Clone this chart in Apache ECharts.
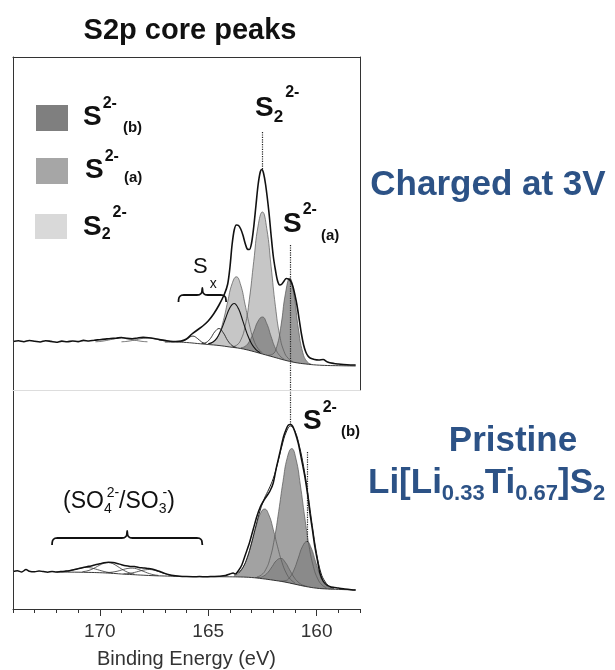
<!DOCTYPE html>
<html><head><meta charset="utf-8">
<script src="https://cdn.jsdelivr.net/npm/echarts@6/dist/echarts.min.js"></script>
<style>html,body{margin:0;padding:0;background:#fff}#c{width:615px;height:670px}</style>
</head><body><div id="c"></div>
<script>
// ---------------- DATA (binding energy in eV, intensity in arb. units) ----------------
const xTickLabels = [160, 165, 170];

// Top panel: charged at 3V
const topRaw = [[174,48.5],[173.75,49.2],[173.5,48.3],[173.25,49.5],[173,48.8],[172.75,48],[172.5,49.3],[172.25,48.6],[172,47.8],[171.75,48.9],[171.5,48.2],[171.25,49],[171,48.4],[170.75,49.6],[170.5,49],[170.25,49.8],[170,50.3],[169.75,50.9],[169.5,51.5],[169.25,51.8],[169,52.5],[168.75,51.6],[168.5,51.2],[168.25,52],[168,52.6],[167.75,52.3],[167.5,51.5],[167.25,50.4],[167,49.6],[166.75,48.8],[166.5,48.5],[166.25,49],[166,51],[165.75,56],[165.5,60],[165.25,64],[165,69],[164.75,76],[164.5,85],[164.25,96],[164.1,106],[164,122],[163.9,145],[163.8,160],[163.7,165],[163.6,164.5],[163.5,161],[163.4,155],[163.3,147],[163.2,141],[163.1,140.5],[163,147],[162.9,163],[162.8,184],[162.7,205],[162.6,218],[162.53,220.5],[162.45,217],[162.35,205],[162.2,178],[162.1,155],[162,134],[161.9,120],[161.8,109],[161.7,105],[161.6,106],[161.5,109],[161.4,111.5],[161.3,111],[161.2,109],[161.1,104],[161,95],[160.9,84],[160.8,70],[160.7,56],[160.6,45],[160.5,38],[160.4,34],[160.3,32],[160.1,30.5],[159.9,30],[159.7,30.5],[159.5,28],[159.2,26.5],[159,26],[158.6,25.3],[158.2,25]];
const topBackground = [[167,48],[166.5,48],[166,47.5],[165.5,46.5],[165,45.5],[164.5,44.5],[164,43],[163.5,41.5],[163,39],[162.5,36],[162,33],[161.5,30],[161,27.5],[160.5,26],[160,25],[159.5,24.5],[159,24.3],[158.2,24]];
const topS22Main = [[161.1,28.5],[161.3,31.4],[161.5,38.4],[161.7,54.3],[161.9,83.7],[162.1,123.8],[162.3,161.6],[162.5,178],[162.7,164],[162.9,128.6],[163.1,90.8],[163.3,63.6],[163.5,49.9],[163.7,44.6],[163.9,43.3]];
const topS22Minor = [[162.5,37.2],[162.7,41.4],[162.9,50],[163.1,65.1],[163.3,85.6],[163.5,104.9],[163.7,113.2],[163.9,106.2],[164.1,88.4],[164.3,69.5],[164.5,56.1],[164.7,49.1],[164.9,46.5]];
const topS2aMain = [[160.24,25.8],[160.44,28.3],[160.64,37.6],[160.84,61.1],[161.04,94.2],[161.24,111.7],[161.44,96.2],[161.64,64.9],[161.84,43.2],[162.04,35.6],[162.24,34.7]];
const topS2aMinor = [[161.5,30.8],[161.7,34.3],[161.9,41.6],[162.1,53.5],[162.3,66.5],[162.5,73],[162.7,68.9],[162.9,58.3],[163.1,48.7],[163.3,43.6],[163.5,42.3]];
const topSx1 = [[162.6,37.3],[162.8,40.4],[163,46.2],[163.2,55.9],[163.4,68.9],[163.6,81.2],[163.8,86.5],[164,82.3],[164.2,71.5],[164.4,60.1],[164.6,51.9],[164.8,47.7],[165,46.2]];
const topSx2 = [[163.7,42.5],[163.9,44.5],[164.1,49.4],[164.3,57.1],[164.5,61.5],[164.7,58.1],[164.9,51.4],[165.1,47.4],[165.3,46.4]];
const topSx3 = [[165.1,46.1],[165.3,48],[165.5,51.6],[165.7,53.9],[165.9,52.4],[166.1,49.5],[166.3,48.2]];
const topSx4 = [[166.6,48.2],[166.8,48.5],[167,49.1],[167.2,49.9],[167.4,50.9],[167.6,51.7],[167.8,52],[168,51.7],[168.2,50.9],[168.4,49.9],[168.6,49.1],[168.8,48.5],[169,48.2]];
const topSx5 = [[167.8,48.2],[168,48.5],[168.2,49.1],[168.4,49.9],[168.6,50.9],[168.8,51.7],[169,52],[169.2,51.7],[169.4,50.9],[169.6,49.9],[169.8,49.1],[170,48.5],[170.2,48.2]];

// Bottom panel: pristine Li[Li0.33Ti0.67]S2
const bottomRaw = [[174,37.5],[173.8,38.2],[173.6,37],[173.4,39.5],[173.25,37.8],[173,37.2],[172.8,38],[172.6,37.4],[172.4,36.8],[172.2,37.5],[172,36.9],[171.8,37.4],[171.6,37.8],[171.4,38.3],[171.2,39.2],[171,40.3],[170.8,41.2],[170.6,42.3],[170.4,43],[170.2,44.2],[170,45.2],[169.8,46.3],[169.6,46.8],[169.4,46.5],[169.2,45.6],[169,44.3],[168.8,43.2],[168.6,42.6],[168.4,42.4],[168.2,41.6],[168,41.1],[167.8,40.6],[167.6,40],[167.4,38.8],[167.2,37.2],[167,35.6],[166.8,34.3],[166.6,33.4],[166.4,32.9],[166.2,32.6],[166,32.4],[165.7,32.3],[165.4,32.4],[165.1,32.2],[164.8,32.5],[164.5,32.8],[164.2,33.5],[164,35],[163.85,36],[163.75,35],[163.6,38.5],[163.45,44],[163.29,54],[163.1,66],[162.92,80],[162.75,93],[162.6,102],[162.45,108],[162.3,113],[162.15,118],[162,126],[161.86,141],[161.7,156],[161.53,172],[161.4,180],[161.3,184],[161.2,184.5],[161.1,182.5],[161,177],[160.85,166],[160.7,150],[160.54,132],[160.4,112],[160.31,96],[160.2,80],[160.08,62],[159.95,47],[159.85,36],[159.7,28],[159.54,24],[159.4,22.5],[159.24,21.7],[159,21],[158.7,20],[158.4,19.3],[158.2,19]];
const bottomFit = [[163.6,36],[163.4,41.4],[163.2,51.2],[163,66],[162.8,83],[162.6,99],[162.4,111],[162.2,120],[162,130.5],[161.8,145.5],[161.6,163],[161.4,177],[161.2,183],[161,178],[160.8,163.5],[160.6,142.5],[160.4,115],[160.2,83.5],[160,55.5],[159.8,36],[159.6,27],[159.4,22.5],[159.2,20.5]];
const bottomBackground = [[172,37],[171,36.8],[170.5,36.6],[170,36.3],[169.5,35.8],[169,35],[168.5,34.4],[168,33.8],[167.5,33.3],[167,33],[166.5,32.7],[166,32.5],[165,32.3],[164,32.2],[163.5,32],[163,31.5],[162.5,30.3],[162,28.8],[161.5,27.1],[161,24.8],[160.5,22.5],[160,20.8],[159.5,20],[159,19.6],[158.2,19]];
const bottomS2aMain = [[159.55,21.3],[159.75,24],[159.95,30.2],[160.15,42.5],[160.35,63.1],[160.55,92.1],[160.75,124],[160.95,149.9],[161.15,160.4],[161.35,151.6],[161.55,127.6],[161.75,97.4],[161.95,69.9],[162.15,50.4],[162.35,39.3],[162.55,34],[162.75,32.2]];
const bottomS2aMinor = [[161,26.2],[161.2,29.5],[161.4,35.9],[161.6,46.9],[161.8,62.2],[162,79.6],[162.2,94],[162.4,100],[162.6,95.2],[162.8,81.9],[163,65.6],[163.2,51.2],[163.4,41.4],[163.6,35.9],[163.8,33.5]];
const bottomS2bMain = [[159.25,20.2],[159.45,21.7],[159.65,25.7],[159.85,34.3],[160.05,47.5],[160.25,61.1],[160.45,67.5],[160.65,62.6],[160.85,50.7],[161.05,38.8],[161.25,31.3],[161.45,28.3],[161.65,28]];
const bottomS2bMinor = [[160.45,22.7],[160.65,24],[160.85,26.9],[161.05,32],[161.25,39.4],[161.45,46.8],[161.65,50.6],[161.85,48.5],[162.05,42.5],[162.25,36.5],[162.45,32.9],[162.65,31.6],[162.85,31.4]];
const bottomSO1 = [[169.4,36],[169.6,36.6],[169.8,37.5],[170,38.7],[170.2,40],[170.4,41.1],[170.6,41.6],[170.8,41.3],[171,40.4],[171.2,39.2],[171.4,38.3],[171.6,37.6],[171.8,37.3]];
const bottomSO2 = [[168.4,34.9],[168.6,35.9],[168.8,37.6],[169,40.1],[169.2,42.9],[169.4,45.4],[169.6,46.4],[169.8,45.8],[170,43.9],[170.2,41.5],[170.4,39.4],[170.6,38],[170.8,37.3]];
const bottomSO3 = [[167.3,33.6],[167.5,34.2],[167.7,35.3],[167.9,36.9],[168.1,38.6],[168.3,40.2],[168.5,40.9],[168.7,40.6],[168.9,39.6],[169.1,38.3],[169.3,37.3],[169.5,36.7],[169.7,36.4]];
const bottomSO4 = [[166.5,33],[166.7,33.6],[166.9,34.6],[167.1,36],[167.3,37.6],[167.5,38.8],[167.7,39.5],[167.9,39.2],[168.1,38.3],[168.3,37.1],[168.5,36.1],[168.7,35.4],[168.9,35.2]];

// dotted marker lines: [eV, from, to]
const topMarkers = [[162.53, 258, 220], [161.2, 145, 0]];
const bottomMarkers = [[161.2, 219, 184], [160.45, 157, 67]];
// braces: [eV start, eV end, level]
const topBrace = [166.37, 164.17, 95];
const bottomBrace = [172.2, 165.27, 71];

// ---------------- CHART ----------------
const FAM = '"Liberation Sans", Arial, Helvetica, sans-serif';
const BLUE = '#2c5286';
const chart = echarts.init(document.getElementById('c'));

function axisBase(grid, extra) {
  return Object.assign({gridIndex: grid, type: 'value', min: 158, max: 174, inverse: true,
    axisLine: {show: false, onZero: false}, axisTick: {show: false}, axisLabel: {show: false},
    splitLine: {show: false}, z: 10}, extra);
}
function yBase(grid, max, extra) {
  return Object.assign({gridIndex: grid, type: 'value', min: 0, max: max,
    axisLine: {show: true, onZero: false, lineStyle: {color: '#333', width: 1}},
    axisTick: {show: false}, axisLabel: {show: false}, splitLine: {show: false}, z: 10}, extra);
}
function fill(data, panel, color, z) {
  return {type: 'line', xAxisIndex: panel ? 2 : 0, yAxisIndex: panel ? 2 : 0, data: data,
    smooth: 0.5, symbol: 'none', silent: true, z: z || 2,
    lineStyle: {color: '#555', width: 0.7}, areaStyle: {color: color, opacity: 1}};
}
function mask(data, panel) {
  return {type: 'line', xAxisIndex: panel ? 2 : 0, yAxisIndex: panel ? 2 : 0, data: data,
    smooth: 0.4, symbol: 'none', silent: true, z: 3,
    lineStyle: {color: '#222', width: 0.9}, areaStyle: {color: '#ffffff', opacity: 1}};
}
function curve(data, panel, width, color, z, extra) {
  return Object.assign({type: 'line', xAxisIndex: panel ? 2 : 0, yAxisIndex: panel ? 2 : 0, data: data,
    smooth: 0.4, symbol: 'none', silent: true, z: z || 4,
    lineStyle: {color: color || '#222', width: width}}, extra || {});
}
function markers(list) {
  return {silent: true, symbol: 'none', label: {show: false}, emphasis: {disabled: true},
    lineStyle: {type: 'dotted', color: '#222', width: 1.2},
    data: list.map(m => [{coord: [m[0], m[1]]}, {coord: [m[0], m[2]]}])};
}

const option = {
  animation: false,
  backgroundColor: '#fff',
  textStyle: {fontFamily: FAM},
  grid: [
    {left: 13, right: 255, top: 57, height: 333},
    {left: 13, right: 255, top: 390, height: 219}
  ],
  xAxis: [
    axisBase(0, {position: 'top', axisLine: {show: true, onZero: false, lineStyle: {color: '#333', width: 1}}}),
    axisBase(0, {position: 'bottom', axisLine: {show: true, onZero: false, lineStyle: {color: '#dddddd', width: 1}}}),
    axisBase(1, {position: 'bottom', interval: 1,
      axisLine: {show: true, onZero: false, lineStyle: {color: '#333', width: 1}},
      axisTick: {show: true, length: 4, lineStyle: {color: '#333', width: 1}},
      axisLabel: {show: true, customValues: xTickLabels, fontSize: 19, color: '#333', margin: 13, fontFamily: FAM},
      name: 'Binding Energy (eV)', nameLocation: 'middle', nameGap: 40,
      nameTextStyle: {fontSize: 20, color: '#333', fontFamily: FAM}}),
    axisBase(1, {position: 'bottom',
      axisTick: {show: true, length: 7, customValues: xTickLabels, lineStyle: {color: '#333', width: 1}}})
  ],
  yAxis: [
    yBase(0, 333, {position: 'left'}),
    yBase(0, 333, {position: 'right'}),
    yBase(1, 219, {position: 'left'})
  ],
  series: [
    // top panel fills
    fill(topS22Minor, 0, '#c6c6c6'),
    fill(topS22Main, 0, '#c6c6c6'),
    fill(topS2aMinor, 0, '#909090'),
    fill(topS2aMain, 0, '#9c9c9c'),
    mask(topBackground, 0),
    curve(topSx1, 0, 1.1, '#111'),
    curve(topSx2, 0, 0.9, '#222'),
    curve(topSx3, 0, 0.9, '#222'),
    curve(topSx4, 0, 0.7, '#444'),
    curve(topSx5, 0, 0.7, '#444'),
    curve(topRaw, 0, 1.6, '#111', 5, {smooth: 0.3, markLine: markers(topMarkers)}),
    // bottom panel fills
    fill(bottomS2aMinor, 1, '#a2a2a2'),
    fill(bottomS2aMain, 1, '#a2a2a2'),
    fill(bottomS2bMinor, 1, '#8a8a8a'),
    fill(bottomS2bMain, 1, '#8a8a8a'),
    mask(bottomBackground, 1),
    curve(bottomSO1, 1, 0.8, '#333'),
    curve(bottomSO2, 1, 0.8, '#333'),
    curve(bottomSO3, 1, 0.8, '#333'),
    curve(bottomSO4, 1, 0.8, '#333'),
    curve(bottomFit, 1, 1.0, '#222', 5),
    curve(bottomRaw, 1, 1.5, '#111', 5, {smooth: 0.3, markLine: markers(bottomMarkers)})
  ]
};
chart.setOption(option);

// ---------------- annotations (text, legend swatches, braces) ----------------
const cv = document.createElement('canvas').getContext('2d');
function txt(x0, cy, parts, color, align) {
  const els = [];
  let total = 0;
  parts.forEach(p => { cv.font = (p.b ? 'bold ' : '') + p.s + 'px ' + FAM; p.w = cv.measureText(p.t).width; total += p.w + (p.gap || 0); });
  let x = align === 'center' ? x0 - total / 2 : x0;
  parts.forEach(p => {
    x += (p.gap || 0);
    els.push({type: 'text', x: x, y: cy + (p.dy || 0), z: 100, silent: true,
      style: {text: p.t, fontSize: p.s, fontWeight: p.b ? 'bold' : 'normal', fontFamily: FAM,
        fill: color || '#111', align: 'left', verticalAlign: 'middle'}});
    x += p.w;
  });
  return els;
}
function brace(spec, grid) {
  const a = chart.convertToPixel({gridIndex: grid}, [spec[0], spec[2]]);
  const b = chart.convertToPixel({gridIndex: grid}, [spec[1], spec[2]]);
  const y = a[1], x1 = a[0], x2 = b[0], xm = (x1 + x2) / 2, d = 7;
  const pts = [[x1, y + d], [x1 + 0.6, y + 2.5], [x1 + 3, y + 0.3], [x1 + 6, y],
    [xm - 6, y], [xm - 3, y - 0.3], [xm - 0.6, y - 2.5], [xm, y - d],
    [xm + 0.6, y - 2.5], [xm + 3, y - 0.3], [xm + 6, y],
    [x2 - 6, y], [x2 - 3, y + 0.3], [x2 - 0.6, y + 2.5], [x2, y + d]];
  return {type: 'polyline', z: 100, silent: true, shape: {points: pts, smooth: 0.3},
    style: {fill: null, stroke: '#111', lineWidth: 1.8}};
}
const B = 1;
let g = [];
g = g.concat(txt(190, 31, [{t: 'S2p core peaks', s: 29, b: B}], '#111', 'center'));
// legend
g.push({type: 'rect', z: 100, silent: true, shape: {x: 36, y: 105, width: 32, height: 26}, style: {fill: '#7f7f7f'}});
g.push({type: 'rect', z: 100, silent: true, shape: {x: 36, y: 158, width: 32, height: 26}, style: {fill: '#a6a6a6'}});
g.push({type: 'rect', z: 100, silent: true, shape: {x: 35, y: 214, width: 32, height: 25}, style: {fill: '#d9d9d9'}});
g = g.concat(txt(83, 117, [{t: 'S', s: 28, b: B}, {t: '2-', s: 16, b: B, dy: -13, gap: 1}, {t: '(b)', s: 15, b: B, dy: 11, gap: 6}]));
g = g.concat(txt(85, 170, [{t: 'S', s: 28, b: B}, {t: '2-', s: 16, b: B, dy: -13, gap: 1}, {t: '(a)', s: 15, b: B, dy: 8, gap: 5}]));
g = g.concat(txt(83, 227, [{t: 'S', s: 28, b: B}, {t: '2', s: 16, b: B, dy: 8}, {t: '2-', s: 16, b: B, dy: -14, gap: 2}]));
// peak labels
g = g.concat(txt(255, 108, [{t: 'S', s: 28, b: B}, {t: '2', s: 17, b: B, dy: 9}, {t: '2-', s: 16, b: B, dy: -15, gap: 2}]));
g = g.concat(txt(283, 224, [{t: 'S', s: 28, b: B}, {t: '2-', s: 16, b: B, dy: -14, gap: 1}, {t: '(a)', s: 15, b: B, dy: 12, gap: 4}]));
g = g.concat(txt(303, 421, [{t: 'S', s: 28, b: B}, {t: '2-', s: 16, b: B, dy: -13, gap: 1}, {t: '(b)', s: 15, b: B, dy: 11, gap: 4}]));
g = g.concat(txt(193, 267, [{t: 'S', s: 22}, {t: 'x', s: 14, dy: 17, gap: 2}]));
g = g.concat(txt(63, 502, [{t: '(SO', s: 23}, {t: '4', s: 14, dy: 7}, {t: '2-', s: 14, dy: -9, gap: -5}, {t: '/SO', s: 23}, {t: '3', s: 14, dy: 7}, {t: '-', s: 14, dy: -9, gap: -4}, {t: ')', s: 23}]));
// right-hand panel titles
g = g.concat(txt(488, 185, [{t: 'Charged at 3V', s: 35, b: B}], BLUE, 'center'));
g = g.concat(txt(513, 441, [{t: 'Pristine', s: 35, b: B}], BLUE, 'center'));
g = g.concat(txt(368, 483, [{t: 'Li[Li', s: 35, b: B}, {t: '0.33', s: 22, b: B, dy: 11}, {t: 'Ti', s: 35, b: B}, {t: '0.67', s: 22, b: B, dy: 11}, {t: ']S', s: 35, b: B}, {t: '2', s: 22, b: B, dy: 11}], BLUE));
g.push(brace(topBrace, 0));
g.push(brace(bottomBrace, 1));
chart.setOption({graphic: g});
</script>
</body></html>
